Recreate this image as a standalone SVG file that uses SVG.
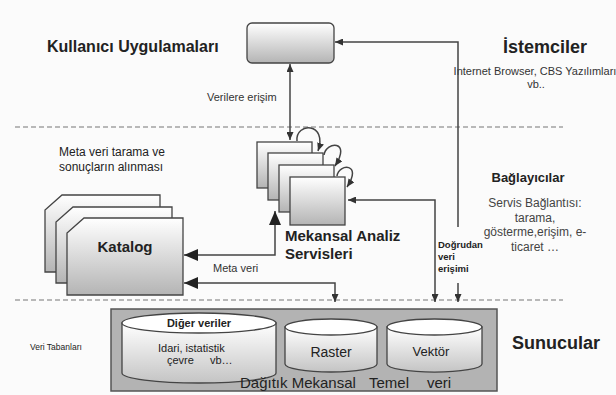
<svg xmlns="http://www.w3.org/2000/svg" width="616" height="395" viewBox="0 0 616 395">
  <defs>
    <linearGradient id="gBox" x1="0" y1="0" x2="0" y2="1">
      <stop offset="0" stop-color="#ffffff"/>
      <stop offset="1" stop-color="#b4b4b4"/>
    </linearGradient>
    <linearGradient id="gCyl" x1="0" y1="0" x2="0" y2="1">
      <stop offset="0" stop-color="#ffffff"/>
      <stop offset="1" stop-color="#c4c4c4"/>
    </linearGradient>
    <marker id="aSm" viewBox="0 0 8 7" refX="8" refY="3.5" markerWidth="8" markerHeight="7" markerUnits="userSpaceOnUse" orient="auto-start-reverse">
      <path d="M0,0 L8,3.5 L0,7 z" fill="#333"/>
    </marker>
    <marker id="aBig" viewBox="0 0 14 12" refX="14" refY="6" markerWidth="14" markerHeight="12" markerUnits="userSpaceOnUse" orient="auto-start-reverse">
      <path d="M0,0 L14,6 L0,12 z" fill="#222"/>
    </marker>
    <style>
      text { font-family: "Liberation Sans", Arial, sans-serif; fill: #222; }
      .title { font-size: 16px; font-weight: bold; }
      .big { font-size: 18px; font-weight: bold; }
      .lbl { font-size: 11px; fill: #333; }
      .note { font-size: 12px; fill: #444; }
      .sep { stroke: #777; stroke-width: 1.2; stroke-dasharray: 5 3; fill: none; }
      .box { fill: url(#gBox); stroke: #444; stroke-width: 1.3; }
      .cyl { fill: url(#gCyl); stroke: #444; stroke-width: 1.3; }
      .lid { fill: #ffffff; stroke: #444; stroke-width: 1.3; }
      .wire { fill: none; stroke: #444; stroke-width: 1.5; }
    </style>
  </defs>

  <rect width="616" height="395" fill="#fbfbfb"/>

  <!-- layer separators -->
  <line class="sep" x1="15" y1="127" x2="563" y2="127"/>
  <line class="sep" x1="15" y1="300" x2="563" y2="300"/>

  <!-- layer labels -->
  <text class="title" x="47" y="52">Kullanıcı Uygulamaları</text>
  <text class="big" x="545" y="53" text-anchor="middle">İstemciler</text>
  <text class="lbl" x="535" y="75" text-anchor="middle" font-size="9.5">Internet Browser, CBS Yazılımları</text>
  <text class="lbl" x="536" y="88" text-anchor="middle" font-size="10.5">vb..</text>
  <text x="528" y="182" text-anchor="middle" font-size="13" font-weight="bold">Bağlayıcılar</text>
  <g class="note" text-anchor="middle">
    <text class="note" x="535" y="207">Servis Bağlantısı:</text>
    <text class="note" x="535" y="222">tarama,</text>
    <text class="note" x="535" y="236">gösterme,erişim, e-</text>
    <text class="note" x="535" y="251">ticaret …</text>
  </g>
  <text class="big" x="556" y="349" text-anchor="middle">Sunucular</text>
  <text x="30" y="350" font-size="8.5" fill="#333">Veri Tabanları</text>
  <text x="59" y="156" font-size="12" fill="#333">Meta veri tarama ve</text>
  <text x="59" y="171" font-size="12" fill="#333">sonuçların alınması</text>

  <!-- client application -->
  <g id="client">
    <rect class="box" x="247" y="23" width="87" height="40" rx="5" stroke="#666"/>
  </g>

  <!-- spatial analysis services -->
  <g id="services">
    <rect class="box" x="257" y="142" width="55" height="46"/>
    <rect class="box" x="268" y="153" width="55" height="47"/>
    <rect class="box" x="279" y="165" width="55" height="47"/>
    <rect class="box" x="290" y="177" width="55" height="48"/>
    <text x="285" y="241" font-size="15" font-weight="bold">Mekansal Analiz</text>
    <text x="285" y="259" font-size="15" font-weight="bold">Servisleri</text>
  </g>

  <!-- catalog -->
  <g id="catalog">
    <path class="box" d="M62,195 H160 V272 H45 V210 Z"/>
    <path class="box" d="M73,207 H172 V283 H56 V222 Z"/>
    <path class="box" d="M84,218 H183 V295 H67 V233 Z"/>
    <text x="125" y="252" text-anchor="middle" font-size="15" font-weight="bold">Katalog</text>
  </g>

  <!-- distributed spatial data -->
  <g id="datastore">
    <rect x="111" y="309" width="386" height="82" fill="#b3b3b3" stroke="#555" stroke-width="1.5"/>
    <g id="other-data">
      <path class="cyl" d="M122,323 V373 A77,10 0 0 0 276,373 V323 Z"/>
      <ellipse class="lid" cx="199" cy="323" rx="77" ry="10"/>
      <text x="199" y="327" text-anchor="middle" font-size="11" font-weight="bold">Diğer veriler</text>
      <text x="158" y="352" font-size="11" fill="#333">Idari, istatistik</text>
      <text x="167" y="364" font-size="11" fill="#333">çevre</text>
      <text x="210" y="364" font-size="11" fill="#333">vb…</text>
    </g>
    <g id="raster">
      <path class="cyl" d="M285,327 V364 A46,8 0 0 0 377,364 V327 Z"/>
      <ellipse class="lid" cx="331" cy="327" rx="46" ry="8"/>
      <text x="331" y="357" text-anchor="middle" font-size="14">Raster</text>
    </g>
    <g id="vector">
      <path class="cyl" d="M387,327 V364 A47,8 0 0 0 482,364 V327 Z"/>
      <ellipse class="lid" cx="434.5" cy="327" rx="47.5" ry="8"/>
      <text x="431" y="356" text-anchor="middle" font-size="13" fill="#333">Vektör</text>
    </g>
    <text x="240" y="388" font-size="15">Dağıtık Mekansal</text>
    <text x="369" y="388" font-size="15">Temel</text>
    <text x="427" y="388" font-size="15">veri</text>
  </g>

  <!-- connectors -->
  <g id="connectors">
    <line class="wire" x1="290" y1="64" x2="290" y2="140" stroke-width="1.3" marker-start="url(#aSm)" marker-end="url(#aSm)"/>
    <path class="wire" d="M458,227 V42 H335" marker-end="url(#aSm)"/>
    <line class="wire" x1="458" y1="283" x2="458" y2="302" marker-end="url(#aSm)"/>
    <path class="wire" d="M348,200 H435 V302" marker-start="url(#aSm)" marker-end="url(#aSm)"/>
    <path class="wire" d="M184,255 H275 V211" marker-start="url(#aBig)" marker-end="url(#aBig)"/>
    <path class="wire" d="M184,283 H335 V302" marker-start="url(#aBig)" marker-end="url(#aSm)"/>
    <path class="wire" d="M297,141 C295,122 328,122 318,151" stroke-width="1.3" marker-end="url(#aSm)"/>
    <path class="wire" d="M324,155 C326,141 352,140 335,166" stroke-width="1.3" marker-end="url(#aSm)"/>
    <path class="wire" d="M337,176 C339,163 363,163 347,187" stroke-width="1.3" marker-end="url(#aSm)"/>
  </g>

  <!-- connector labels -->
  <text class="lbl" x="207" y="101" font-size="10">Verilere erişim</text>
  <text class="lbl" x="213" y="272">Meta veri</text>
  <g font-size="9.5" font-weight="bold">
    <text x="438" y="248" font-size="9.5" font-weight="bold">Doğrudan</text>
    <text x="438" y="260" font-size="9.5" font-weight="bold">veri</text>
    <text x="438" y="272" font-size="9.5" font-weight="bold">erişimi</text>
  </g>
</svg>
